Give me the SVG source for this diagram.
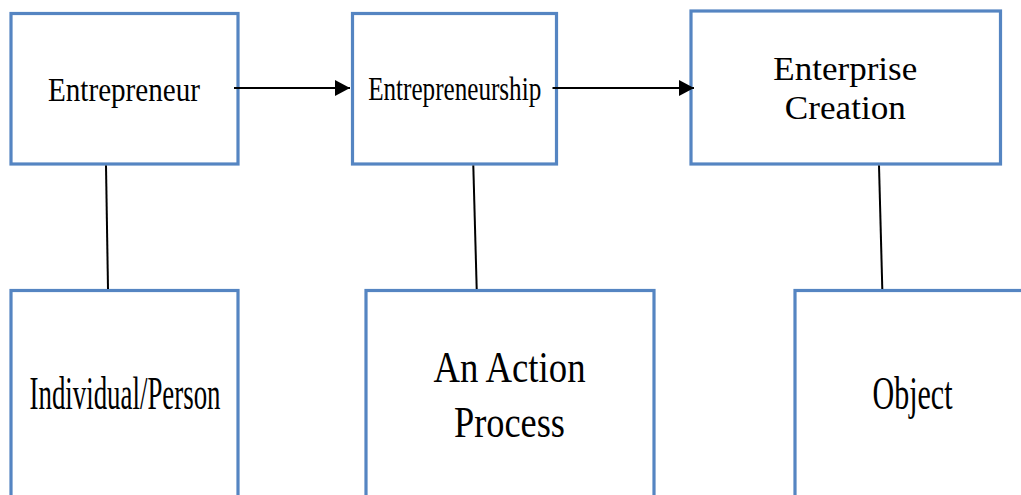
<svg xmlns="http://www.w3.org/2000/svg" width="1021" height="495" viewBox="0 0 1021 495">
<style>
.box{fill:#fff;stroke:#5585C2;stroke-width:3.2}
.t{font-family:"Liberation Serif","Times New Roman",serif;fill:#000;text-anchor:middle}
.c{stroke:#000;stroke-width:2;fill:none}
</style>
<defs>
<marker id="ah" markerWidth="16" markerHeight="16" refX="15" refY="8" orient="auto" markerUnits="userSpaceOnUse">
<path d="M0,0 L15,8 L0,16 Z" fill="#000"/>
</marker>
</defs>
<rect width="1021" height="495" fill="#fff"/>
<g id="n1"><rect class="box" x="11" y="13.5" width="227" height="150.5"/>
<text class="t" x="124" y="100.7" font-size="34" textLength="152" lengthAdjust="spacingAndGlyphs">Entrepreneur</text></g>
<g id="n2"><rect class="box" x="352.5" y="13.5" width="204" height="150.5"/>
<text class="t" x="454.7" y="100" font-size="33" textLength="173" lengthAdjust="spacingAndGlyphs">Entrepreneurship</text></g>
<g id="n3"><rect class="box" x="691" y="11" width="309.5" height="153"/>
<text class="t" x="845.3" y="80" font-size="34" textLength="144" lengthAdjust="spacingAndGlyphs">Enterprise</text>
<text class="t" x="845.3" y="119.3" font-size="34" textLength="121" lengthAdjust="spacingAndGlyphs">Creation</text></g>
<g id="n4"><rect class="box" x="11" y="290.5" width="227" height="210"/>
<text class="t" x="125" y="409.3" font-size="47" textLength="191" lengthAdjust="spacingAndGlyphs">Individual/Person</text></g>
<g id="n5"><rect class="box" x="366" y="290.5" width="288" height="210"/>
<text class="t" x="509.5" y="381.7" font-size="45" textLength="152" lengthAdjust="spacingAndGlyphs">An Action</text>
<text class="t" x="509.5" y="436.7" font-size="45" textLength="111" lengthAdjust="spacingAndGlyphs">Process</text></g>
<g id="n6"><rect class="box" x="795" y="290.5" width="240" height="210"/>
<text class="t" x="912.5" y="409.3" font-size="47" textLength="80" lengthAdjust="spacingAndGlyphs">Object</text></g>
<g id="connectors">
<line class="c" x1="234" y1="88" x2="350" y2="88" marker-end="url(#ah)"/>
<line class="c" x1="552.5" y1="88" x2="694" y2="88" marker-end="url(#ah)"/>
<line class="c" x1="106" y1="165.5" x2="108" y2="289"/>
<line class="c" x1="473.3" y1="165.5" x2="476.7" y2="289"/>
<line class="c" x1="879" y1="165.5" x2="882.3" y2="289"/>
</g>
</svg>
